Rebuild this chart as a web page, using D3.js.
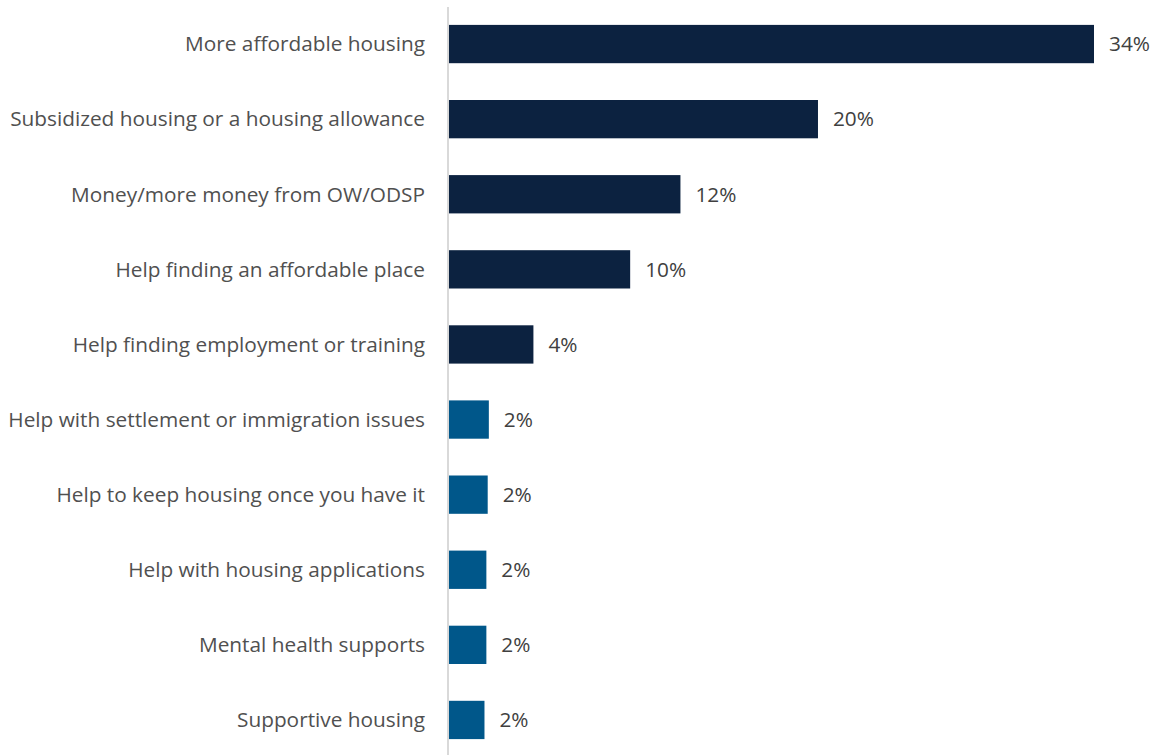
<!DOCTYPE html>
<html><head><meta charset="utf-8">
<script src="https://cdn.jsdelivr.net/npm/d3@7"></script>
<style>html,body{margin:0;padding:0;background:#fff;}</style>
</head><body><svg id="c" width="1155" height="755"></svg>
<script>
const categories = [
  "More affordable housing",
  "Subsidized housing or a housing allowance",
  "Money/more money from OW/ODSP",
  "Help finding an affordable place",
  "Help finding employment or training",
  "Help with settlement or immigration issues",
  "Help to keep housing once you have it",
  "Help with housing applications",
  "Mental health supports",
  "Supportive housing"
];
const values = [34.0, 19.45, 12.2, 9.55, 4.45, 2.1, 2.04, 1.97, 1.97, 1.87];
const valueLabels = ["34%","20%","12%","10%","4%","2%","2%","2%","2%","2%"];
const groups = ["top","top","top","top","top","other","other","other","other","other"];
const colors = {top:"#0c2240", other:"#00578a"};

const svg = d3.select("#c");
const x0 = 449;
const x = d3.scaleLinear().domain([0, 34]).range([x0, 1094]);
const y = d3.scaleBand().domain(categories).range([6.5, 757.5]).paddingInner(0.49).paddingOuter(0.245);

svg.append("line").attr("x1", 448).attr("x2", 448).attr("y1", 7).attr("y2", 755)
  .attr("stroke", "#d9d9d9").attr("stroke-width", 2);

const data = categories.map((c,i)=>({c, v:values[i], l:valueLabels[i], g:groups[i]}));

svg.selectAll("rect.bar").data(data).join("rect")
  .attr("x", x(0)).attr("y", d=>y(d.c)).attr("width", d=>x(d.v)-x(0)).attr("height", y.bandwidth())
  .attr("fill", d=>colors[d.g]);

const font = "'Open Sans', sans-serif";
svg.selectAll("text.cat").data(data).join("text")
  .attr("x", 425).attr("y", d=>y(d.c)+y.bandwidth()/2).attr("dy","0.35em")
  .attr("text-anchor","end").attr("font-family", font).attr("font-size", 20.8).attr("fill","#505050")
  .text(d=>d.c);

svg.selectAll("text.val").data(data).join("text")
  .attr("x", d=>x(d.v)+15).attr("y", d=>y(d.c)+y.bandwidth()/2).attr("dy","0.35em")
  .attr("font-family", font).attr("font-size", 20.8).attr("fill","#404040")
  .text(d=>d.l);
</script></body></html>
